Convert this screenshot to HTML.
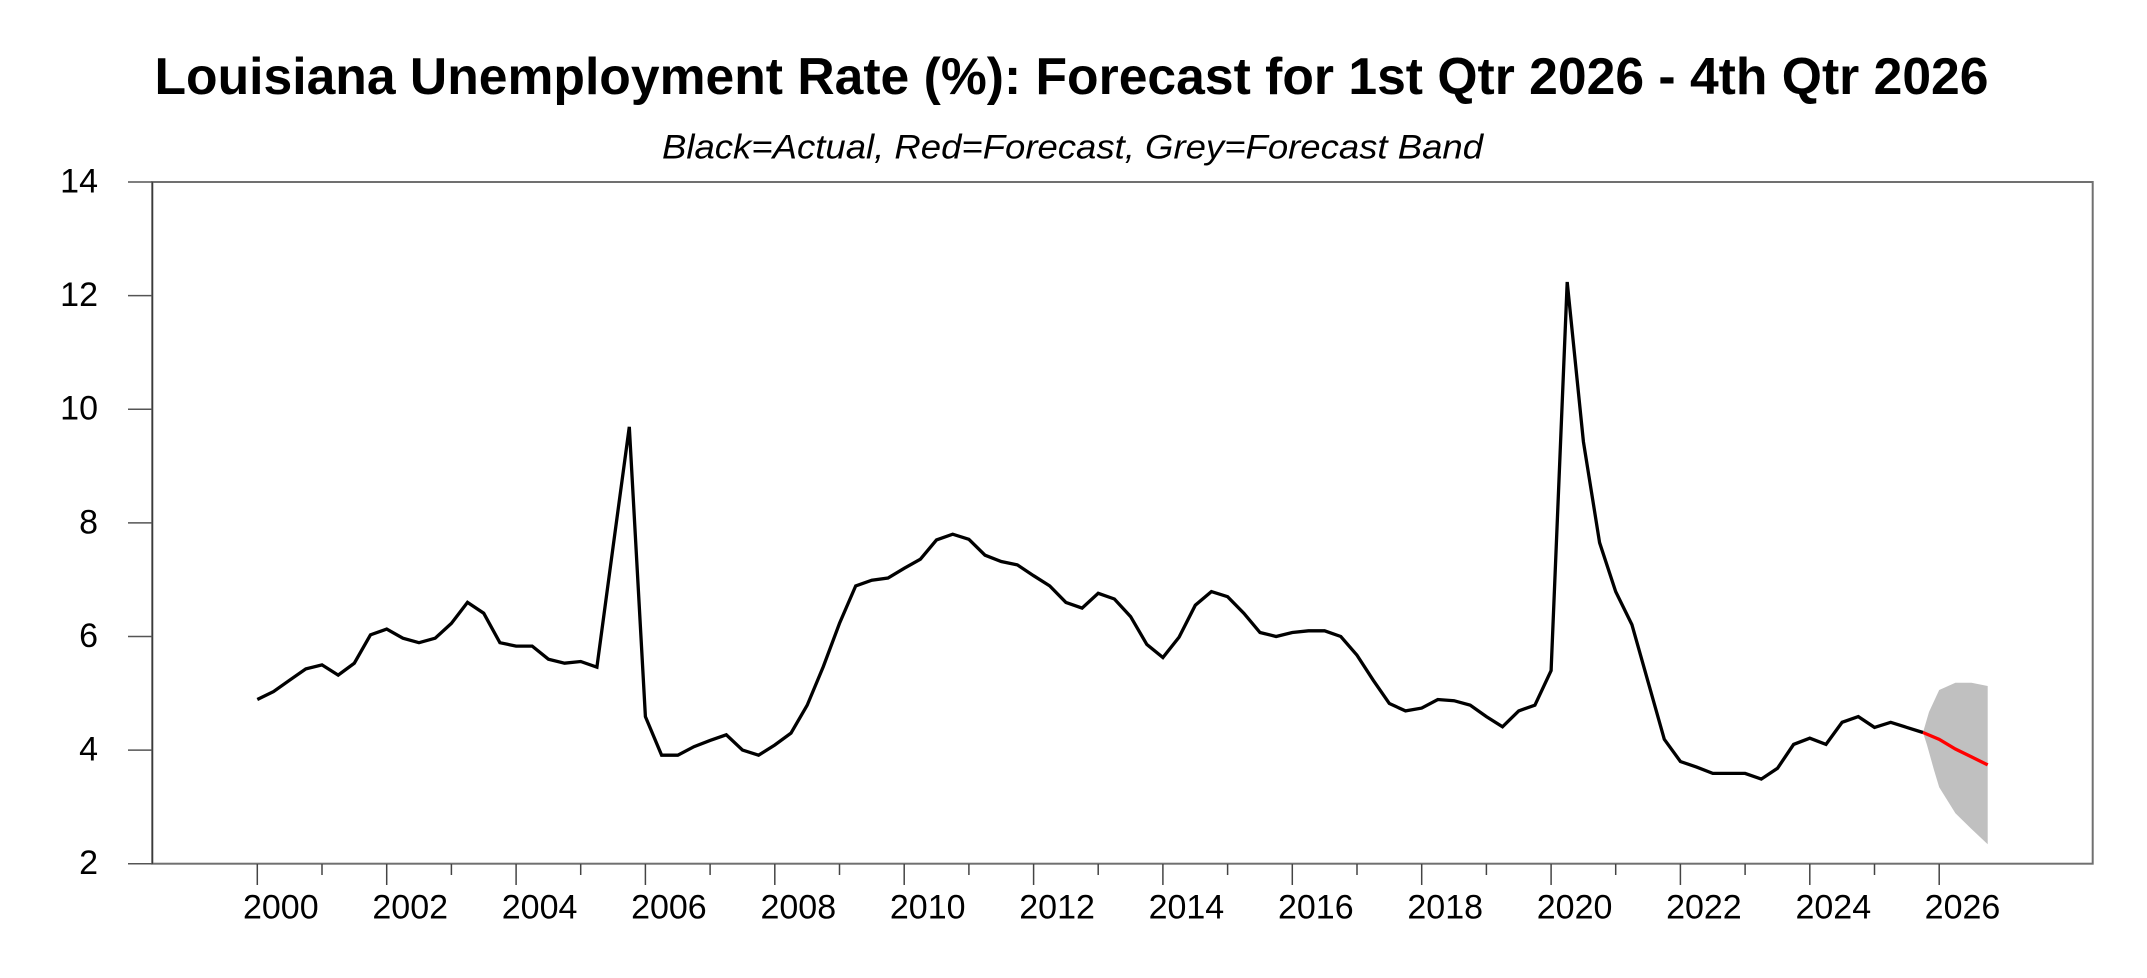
<!DOCTYPE html>
<html>
<head>
<meta charset="utf-8">
<style>
  html, body { margin: 0; padding: 0; background: #ffffff; }
  svg { display: block; }
  text { font-family: "Liberation Sans", Arial, sans-serif; fill: #000; }
</style>
</head>
<body>
<svg width="2147" height="978" viewBox="0 0 2147 978" xmlns="http://www.w3.org/2000/svg">
  <rect x="0" y="0" width="2147" height="978" fill="#ffffff"/>

  <!-- Title -->
  <text x="154.5" y="94" font-size="52" font-weight="bold" textLength="1834" lengthAdjust="spacingAndGlyphs">Louisiana Unemployment Rate (%): Forecast for 1st Qtr 2026 - 4th Qtr 2026</text>
  <!-- Subtitle -->
  <text x="662" y="158.5" font-size="34" font-style="italic" textLength="821" lengthAdjust="spacingAndGlyphs">Black=Actual, Red=Forecast, Grey=Forecast Band</text>

  <!-- Forecast band -->
  <polygon fill="#c0c0c0" points="1923,732.5 1929,712 1939.2,690 1955.4,682.7 1971.5,682.7 1987.7,686 1987.7,844.3 1971.5,829 1955.4,813.3 1939.2,787.3 1934,770 1927,745"/>

  <!-- Plot frame -->
  <rect x="152.3" y="182" width="1940.4" height="681.7" fill="none" stroke="#707070" stroke-width="2"/>
  <line x1="152.3" y1="182" x2="152.3" y2="864" stroke="#3a3a3a" stroke-width="1.6"/>

  <!-- Y ticks -->
  <g stroke="#555" stroke-width="1.5">
    <line x1="128" y1="182" x2="152.3" y2="182"/>
    <line x1="128" y1="295.6" x2="152.3" y2="295.6"/>
    <line x1="128" y1="409.2" x2="152.3" y2="409.2"/>
    <line x1="128" y1="522.9" x2="152.3" y2="522.9"/>
    <line x1="128" y1="636.5" x2="152.3" y2="636.5"/>
    <line x1="128" y1="750.1" x2="152.3" y2="750.1"/>
    <line x1="128" y1="863.7" x2="152.3" y2="863.7"/>
  </g>
  <g font-size="34" text-anchor="end">
    <text x="98" y="192.5">14</text>
    <text x="98" y="306.1">12</text>
    <text x="98" y="419.7">10</text>
    <text x="98" y="533.4">8</text>
    <text x="98" y="647">6</text>
    <text x="98" y="760.6">4</text>
    <text x="98" y="874.2">2</text>
  </g>

  <!-- X ticks -->
  <g stroke="#444" stroke-width="1.5">
    <line x1="257.3" y1="864" x2="257.3" y2="885"/>
    <line x1="322.0" y1="864" x2="322.0" y2="875"/>
    <line x1="386.7" y1="864" x2="386.7" y2="885"/>
    <line x1="451.4" y1="864" x2="451.4" y2="875"/>
    <line x1="516.1" y1="864" x2="516.1" y2="885"/>
    <line x1="580.7" y1="864" x2="580.7" y2="875"/>
    <line x1="645.4" y1="864" x2="645.4" y2="885"/>
    <line x1="710.1" y1="864" x2="710.1" y2="875"/>
    <line x1="774.8" y1="864" x2="774.8" y2="885"/>
    <line x1="839.5" y1="864" x2="839.5" y2="875"/>
    <line x1="904.2" y1="864" x2="904.2" y2="885"/>
    <line x1="968.9" y1="864" x2="968.9" y2="875"/>
    <line x1="1033.6" y1="864" x2="1033.6" y2="885"/>
    <line x1="1098.2" y1="864" x2="1098.2" y2="875"/>
    <line x1="1162.9" y1="864" x2="1162.9" y2="885"/>
    <line x1="1227.6" y1="864" x2="1227.6" y2="875"/>
    <line x1="1292.3" y1="864" x2="1292.3" y2="885"/>
    <line x1="1357.0" y1="864" x2="1357.0" y2="875"/>
    <line x1="1421.7" y1="864" x2="1421.7" y2="885"/>
    <line x1="1486.4" y1="864" x2="1486.4" y2="875"/>
    <line x1="1551.1" y1="864" x2="1551.1" y2="885"/>
    <line x1="1615.7" y1="864" x2="1615.7" y2="875"/>
    <line x1="1680.4" y1="864" x2="1680.4" y2="885"/>
    <line x1="1745.1" y1="864" x2="1745.1" y2="875"/>
    <line x1="1809.8" y1="864" x2="1809.8" y2="885"/>
    <line x1="1874.5" y1="864" x2="1874.5" y2="875"/>
    <line x1="1939.2" y1="864" x2="1939.2" y2="885"/>
  </g>
  <g font-size="34" text-anchor="middle">
    <text x="280.8" y="918.3">2000</text>
    <text x="410.2" y="918.3">2002</text>
    <text x="539.6" y="918.3">2004</text>
    <text x="668.9" y="918.3">2006</text>
    <text x="798.3" y="918.3">2008</text>
    <text x="927.7" y="918.3">2010</text>
    <text x="1057.1" y="918.3">2012</text>
    <text x="1186.4" y="918.3">2014</text>
    <text x="1315.8" y="918.3">2016</text>
    <text x="1445.2" y="918.3">2018</text>
    <text x="1574.6" y="918.3">2020</text>
    <text x="1703.9" y="918.3">2022</text>
    <text x="1833.3" y="918.3">2024</text>
    <text x="1962.5" y="918.3">2026</text>
  </g>

  <!-- Actual series -->
  <polyline fill="none" stroke="#000" stroke-width="3.3" stroke-linejoin="miter" stroke-miterlimit="4" points="
257.3,699.5 273.5,691.6 289.6,680.2 305.8,668.9 322.0,664.9 338.2,675.1 354.3,663.2 370.5,634.8
386.7,629.1 402.9,638.2 419.0,642.7 435.2,638.2 451.4,623.4 467.5,602.4 483.7,613.2 499.9,642.7
516.1,646.1 532.2,646.1 548.4,659.2 564.6,663.2 580.7,661.5 596.9,667.2 613.1,546.7 629.3,426.9
645.4,716.6 661.6,755.2 677.8,755.2 693.9,746.7 710.1,740.4 726.3,734.8 742.5,750.1 758.6,755.2
774.8,745.0 791.0,733.1 807.2,705.2 823.3,666.6 839.5,623.4 855.7,585.9 871.8,580.2 888.0,578.0
904.2,568.3 920.4,559.2 936.5,539.9 952.7,534.2 968.9,539.3 985.0,555.2 1001.2,561.5 1017.4,564.9
1033.6,575.7 1049.7,585.9 1065.9,602.4 1082.1,608.1 1098.2,593.3 1114.4,599.0 1130.6,616.6 1146.8,644.4
1162.9,657.5 1179.1,637.1 1195.3,605.2 1211.4,591.6 1227.6,596.7 1243.8,613.2 1260.0,632.5 1276.1,636.5
1292.3,632.5 1308.5,630.8 1324.6,630.8 1340.8,636.5 1357.0,655.2 1373.2,680.2 1389.3,703.5 1405.5,710.9
1421.7,708.1 1437.8,699.5 1454.0,700.7 1470.2,705.2 1486.4,716.6 1502.5,726.8 1518.7,710.9 1534.9,705.2
1551.1,670.6 1567.2,282.0 1583.4,441.6 1599.6,542.7 1615.7,591.6 1631.9,624.6 1648.1,681.9 1664.3,739.3
1680.4,761.5 1696.6,767.1 1712.8,773.4 1728.9,773.4 1745.1,773.4 1761.3,779.1 1777.5,768.3 1793.6,744.4
1809.8,738.2 1826.0,744.4 1842.1,722.3 1858.3,716.6 1874.5,727.4 1890.7,722.3 1906.8,727.4 1923.0,732.5"/>

  <!-- Forecast series -->
  <polyline fill="none" stroke="#ff0000" stroke-width="3.3" points="1923.0,732.5 1939.2,739.3 1955.4,749.0 1971.5,756.9 1987.7,764.9"/>
</svg>
</body>
</html>
